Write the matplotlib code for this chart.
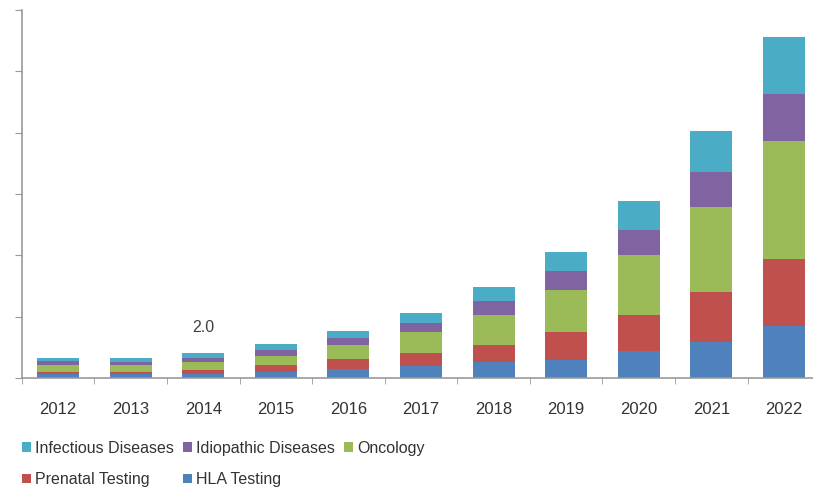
import matplotlib
matplotlib.use("Agg")
import matplotlib.pyplot as plt
from matplotlib.ticker import MultipleLocator
import numpy as np

plt.rcParams['font.family'] = ['Liberation Sans', 'DejaVu Sans']

years = ["2012", "2013", "2014", "2015", "2016", "2017", "2018", "2019", "2020", "2021", "2022"]

hla_testing = [0.30, 0.29, 0.36, 0.45, 0.77, 1.00, 1.27, 1.47, 2.17, 2.90, 4.20]
prenatal_testing = [0.22, 0.22, 0.30, 0.62, 0.81, 1.00, 1.42, 2.25, 2.99, 4.07, 5.49]
oncology = [0.55, 0.54, 0.64, 0.75, 1.08, 1.71, 2.47, 3.46, 4.89, 6.98, 9.64]
idiopathic_diseases = [0.29, 0.28, 0.34, 0.45, 0.63, 0.81, 1.08, 1.52, 2.01, 2.80, 3.85]
infectious_diseases = [0.30, 0.30, 0.36, 0.46, 0.54, 0.81, 1.20, 1.55, 2.39, 3.34, 4.62]

series = [
    ("HLA Testing", hla_testing, "#4F81BD"),
    ("Prenatal Testing", prenatal_testing, "#C0504D"),
    ("Oncology", oncology, "#9BBB59"),
    ("Idiopathic Diseases", idiopathic_diseases, "#8064A2"),
    ("Infectious Diseases", infectious_diseases, "#4BACC6"),
]

fig = plt.figure(figsize=(8.13, 4.96), dpi=100)
ax = fig.add_axes([0.0268, 0.238, 0.982, 0.742])

x = np.arange(len(years))
bottom = np.zeros(len(years))
handles = {}
for name, vals, color in series:
    vals = np.array(vals)
    h = ax.bar(x, vals, width=0.58, bottom=bottom, color=color, label=name, linewidth=0)
    handles[name] = h
    bottom += vals

totals = bottom
ax.text(x[2], totals[2] + 2.1, f"{totals[2]:.1f}", ha="center", va="center",
        fontsize=11.5, color="#404040")

ax.set_xlim(-0.5, len(years) - 0.5)
ax.set_ylim(0, 30)
ax.yaxis.set_major_locator(MultipleLocator(5))
ax.set_yticklabels([])
ax.set_xticks(x)
ax.set_xticklabels(years, fontsize=12, color="#333333")
ax.set_xticks(np.arange(-0.5, len(years), 1.0), minor=True)
ax.tick_params(axis="x", which="major", length=0, pad=17.5)
ax.tick_params(axis="x", which="minor", length=4, color="#999999", direction="out")
ax.tick_params(axis="y", which="major", length=5, color="#999999", direction="out")

for side in ["top", "right"]:
    ax.spines[side].set_visible(False)
for side in ["left", "bottom"]:
    ax.spines[side].set_color("#999999")
    ax.spines[side].set_linewidth(1.2)

order = ["Infectious Diseases", "Prenatal Testing", "Idiopathic Diseases", "HLA Testing", "Oncology"]
leg = fig.legend([handles[n] for n in order], order, ncol=3, loc="upper left",
                 bbox_to_anchor=(0.027, 0.111), frameon=False, fontsize=11.5,
                 handlelength=0.55, handleheight=0.55, handletextpad=0.25,
                 columnspacing=0.6, labelspacing=1.02, borderaxespad=0, borderpad=0)
for t in leg.get_texts():
    t.set_color("#333333")

fig.savefig("out.png", dpi=100)
